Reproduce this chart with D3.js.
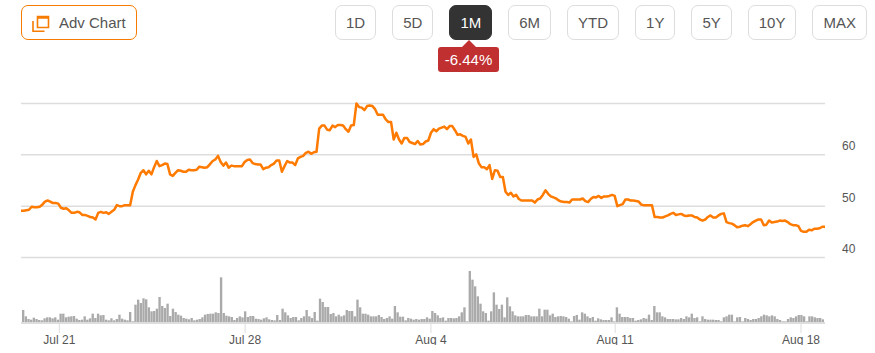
<!DOCTYPE html>
<html><head><meta charset="utf-8">
<script src="https://cdn.jsdelivr.net/npm/d3@7/dist/d3.min.js"></script>
<style>
html,body{margin:0;padding:0;background:#fff;width:875px;height:353px;overflow:hidden;font-family:"Liberation Sans",Arial,sans-serif}
#wrap{position:relative;width:875px;height:353px}
svg{position:absolute;left:0;top:0}
.adv{position:absolute;left:21px;top:5px;width:114px;height:33px;border:1px solid #f57c00;border-radius:7px;color:#555;font-size:15px;line-height:33px;box-sizing:content-box}
.adv span{position:absolute;left:37px;white-space:nowrap}
.adv svg{left:10px;top:9px}
.ranges{position:absolute;left:335px;top:5px;display:flex;gap:16px}
.ranges div{height:33px;line-height:33px;padding:0 10px;border:1px solid #ddd;border-radius:7px;color:#555;font-size:15px}
.ranges div.on{background:#333;border-color:#333;color:#fff}
.badge{position:absolute;left:438px;top:47px;width:61px;height:25px;line-height:25px;background:#c13030;border-radius:3px;color:#fff;font-size:15px;text-align:center}
.badge:before{content:"";position:absolute;left:24px;top:-7px;border-left:7px solid transparent;border-right:7px solid transparent;border-bottom:7px solid #c13030}
</style></head><body><div id="wrap"></div>
<script>
const rangeLabels = ["1D","5D","1M","6M","YTD","1Y","5Y","10Y","MAX"];
const activeRange = "1M";
const changeLabel = "-6.44%";
const advLabel = "Adv Chart";
const priceTicks = [40,50,60,70];
const priceTickLabels = ["40","50","60",""];
const dateTickIndex = [14.2,84,153.8,223,292.8];
const dateTickLabels = ["Jul 21","Jul 28","Aug 4","Aug 11","Aug 18"];

const price = [
49.0,49.0,49.1,49.2,49.8,49.7,49.7,49.8,50.2,50.8,51.0,50.8,50.5,50.5,50.4,49.6,49.4,49.5,49.1,48.6,
48.6,48.8,48.7,48.2,48.2,48.0,47.8,47.7,47.3,48.6,48.8,48.6,48.7,48.4,48.8,49.2,50.1,49.9,49.9,50.1,
50.1,50.1,52.7,54.0,55.1,56.4,56.9,56.1,56.8,56.1,57.5,58.7,57.7,57.9,58.2,58.1,56.1,55.8,56.4,56.9,
56.8,56.6,56.6,57.0,56.9,56.9,57.0,57.6,57.5,57.4,57.5,58.1,58.7,59.0,59.7,
58.5,57.8,58.4,57.4,57.8,57.7,57.7,57.7,57.7,58.5,58.9,59.0,58.3,58.1,58.0,58.0,57.1,57.4,57.5,57.9,
58.2,58.8,58.8,56.6,57.7,58.7,58.4,58.4,57.9,59.2,59.5,59.7,60.3,60.5,60.1,60.4,60.5,65.0,65.6,65.6,
64.8,64.7,65.6,65.3,65.7,65.7,65.6,64.9,64.4,65.6,65.7,69.9,69.2,69.1,68.6,69.4,69.5,69.4,68.8,67.7,
67.7,67.7,66.8,66.3,66.3,62.9,64.2,62.9,62.1,63.2,63.2,62.4,62.2,62.0,62.6,61.9,62.0,62.5,62.7,64.2,
64.9,64.5,65.0,
65.2,65.4,64.9,65.5,65.5,64.7,63.8,63.9,63.6,63.4,62.1,62.9,59.5,60.0,58.2,57.5,57.5,57.1,57.9,55.2,
56.9,56.8,55.6,55.6,52.7,52.1,52.5,51.8,52.1,51.3,51.0,51.0,51.0,51.0,51.0,50.6,51.2,51.4,52.1,53.0,
52.3,51.8,51.6,51.4,51.0,50.8,50.7,50.7,50.6,51.2,51.2,51.2,51.2,51.4,50.9,50.7,51.3,51.7,51.6,51.9,
51.5,51.8,51.8,51.9,52.1,51.9,49.9,50.1,50.3,51.2,51.2,51.0,51.0,50.9,50.8,50.2,50.1,50.1,50.1,50.1,
47.8,47.8,
47.7,47.7,47.9,48.1,48.4,48.6,48.2,48.3,48.4,48.1,48.0,48.1,48.1,47.8,47.7,47.3,47.1,47.3,47.8,48.1,
47.7,47.7,48.1,48.4,48.5,46.8,46.6,46.5,46.2,45.8,45.9,46.1,46.2,46.0,46.4,46.8,47.1,47.3,47.3,46.2,
46.3,47.1,46.7,46.8,46.9,47.1,47.0,47.1,46.8,46.4,46.2,46.2,46.0,45.1,44.9,44.9,45.3,45.2,45.5,45.5,
45.6,45.9,45.9
];
const volume = [
36,17,9,7,13,9,6,5,11,14,14,11,14,7,25,25,14,16,17,18,10,6,7,17,7,11,25,12,25,20,21,7,5,11,5,9,22,10,7,5,
30,2,52,67,57,71,68,44,32,33,40,75,48,42,55,18,40,30,22,19,12,10,8,12,5,7,9,14,22,24,25,25,29,27,
134,27,19,17,15,6,12,17,14,32,15,18,18,10,9,7,11,14,8,6,5,21,6,40,29,20,12,15,15,5,12,17,36,17,12,30,4,70,60,45,
45,24,27,17,22,17,20,36,33,33,17,67,44,25,25,22,17,17,17,21,15,9,12,17,10,48,29,16,16,5,12,10,7,9,7,9,9,14,10,33,27,20,
12,14,4,12,12,11,12,17,29,44,2,153,127,107,77,55,32,27,4,32,89,52,39,52,14,74,47,32,20,17,17,17,21,21,17,17,17,40,17,37,
37,20,25,15,17,18,17,15,10,2,18,21,7,29,25,17,12,15,4,11,8,6,6,6,14,2,44,25,15,15,15,12,12,4,6,8,12,10,22,6,48,29,29,
17,14,9,9,9,8,8,12,9,17,14,25,12,14,2,17,9,7,7,7,6,6,2,14,17,22,22,2,14,15,2,12,9,6,9,9,12,17,22,20,17,20,17,9,6,2,2,9,14,12,17,21,21,17,2,17,17,14,12,12,8
];

const wrap = d3.select("#wrap");

// Chart
const left = 21, right = 825;
const x = d3.scaleLinear().domain([0, price.length - 1]).range([left, right]);
const y = d3.scaleLinear().domain([40, 70]).range([257, 103]);
const vBand = d3.scaleBand().domain(d3.range(volume.length)).range([22, 824]).paddingInner(0.12);
const vY = d3.scaleLinear().domain([0, d3.max(volume)]).range([322, 271]);

const svg = wrap.append("svg").attr("width", 875).attr("height", 353);
svg.append("defs").append("clipPath").attr("id", "xclip")
  .append("rect").attr("x", 0).attr("y", 318).attr("width", 875).attr("height", 27);

// price grid + labels
const yAxis = d3.axisRight(y).tickValues(priceTicks).tickSize(right - left)
  .tickFormat((d, i) => priceTickLabels[i]);
const yG = svg.append("g").attr("transform", `translate(${left},0)`).call(yAxis);
yG.select(".domain").remove();
yG.selectAll("line").attr("stroke", "#ddd").attr("stroke-width", 1.5);
yG.selectAll("text").attr("x", right - left + 17).attr("dy", "-4.4px")
  .attr("fill", "#555").attr("font-size", 12).attr("font-family", '"Liberation Sans",Arial,sans-serif');

// volume
svg.append("g").selectAll("rect").data(volume).join("rect")
  .attr("x", (d, i) => vBand(i)).attr("width", vBand.bandwidth())
  .attr("y", d => vY(d)).attr("height", d => vY(0) - vY(d))
  .attr("fill", "#aaa");

// date axis
const xAxis = d3.axisBottom(x).tickValues(dateTickIndex).tickSize(11).tickSizeOuter(0)
  .tickFormat((d, i) => dateTickLabels[i]);
const xG = svg.append("g").attr("transform", "translate(0,322)").attr("clip-path", "url(#xclip)");
xG.attr("clip-path", null);
xG.call(xAxis);
xG.select(".domain").attr("stroke", "#ddd").attr("stroke-width", 2).attr("d", `M${left},1H${right}`);
xG.selectAll("line").attr("stroke", "#ddd").attr("stroke-width", 1);
xG.selectAll("text").attr("y", 22).attr("dy", 0).attr("fill", "#555").attr("font-size", 12)
  .attr("font-family", '"Liberation Sans",Arial,sans-serif');
svg.append("g").attr("clip-path", "url(#xclip)").node().appendChild(xG.node());

// price line
const line = d3.line().x((d, i) => x(i)).y(d => y(d));
svg.append("path").datum(price).attr("d", line).attr("fill", "none")
  .attr("stroke", "#ff7a00").attr("stroke-width", 2.5).attr("stroke-linejoin", "round");

// Header controls
const adv = wrap.append("div").attr("class", "adv");
const icon = adv.append("svg").attr("width", 18).attr("height", 18);
icon.append("path").attr("d", "M5.5,1.5H16.5V12.5H5.5Z M5.5,3H16.5").attr("fill", "none").attr("stroke", "#f57c00").attr("stroke-width", 1.6);
icon.append("path").attr("d", "M1,6V16.2H12.5").attr("fill", "none").attr("stroke", "#f57c00").attr("stroke-width", 1.6);
adv.append("span").text(advLabel);

wrap.append("div").attr("class", "ranges").selectAll("div").data(rangeLabels).join("div")
  .classed("on", d => d === activeRange).text(d => d);
wrap.append("div").attr("class", "badge").text(changeLabel);
</script></body></html>
